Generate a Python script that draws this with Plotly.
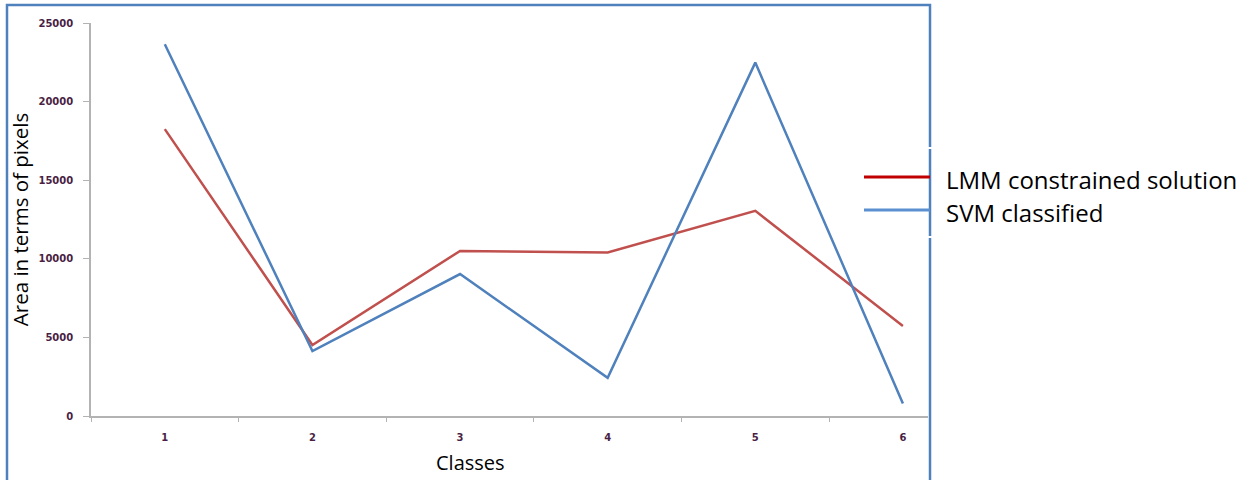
import plotly.graph_objects as go

# Pixel area per class for the two methods
classes = [1, 2, 3, 4, 5, 6]
lmm_area = [18250, 4520, 10500, 10400, 13050, 5720]
svm_area = [23650, 4130, 9030, 2430, 22480, 800]
series_names = ["LMM constrained solution", "SVM classified"]
y_ticks = [0, 5000, 10000, 15000, 20000, 25000]

W, H = 1252, 480
L, R, T, B = 91, 928, 23, 416  # plot area in pixels

LINE_RED = "#c0504d"
LINE_BLUE = "#4f81bd"
TICK_FONT = dict(family="DejaVu Sans", size=10, color="#4a1f45", weight="bold")
TITLE_FONT = dict(family="Open Sans", size=20, color="#000000")


def px_x(x):
    return (x - L) / (R - L)


def px_y(y):
    return (B - y) / (B - T)


fig = go.Figure()
fig.add_trace(go.Scatter(x=classes, y=lmm_area, mode="lines", name=series_names[0],
                         line=dict(color=LINE_RED, width=2.5), showlegend=False))
fig.add_trace(go.Scatter(x=classes, y=svm_area, mode="lines", name=series_names[1],
                         line=dict(color=LINE_BLUE, width=2.5), showlegend=False))

fig.update_layout(
    width=W, height=H,
    margin=dict(l=L, r=W - R, t=T, b=H - B),
    paper_bgcolor="white", plot_bgcolor="white",
    xaxis=dict(range=[0.5, 6.17], tickvals=classes, ticktext=[str(c) for c in classes],
               showgrid=False, zeroline=False, showline=True, linecolor="#b3b3b3", linewidth=1.5,
               ticks="", tickfont=TICK_FONT, ticklabelstandoff=11,
               minor=dict(ticks="outside", tick0=0.5, dtick=1, ticklen=4, tickcolor="#b3b3b3",
                          showgrid=False)),
    yaxis=dict(range=[0, 25000], tickvals=y_ticks, ticktext=[str(v) for v in y_ticks],
               showgrid=False, zeroline=False,
               showline=True, linecolor="#b3b3b3", linewidth=1.5,
               ticks="outside", ticklen=6, tickcolor="#b3b3b3", tickfont=TICK_FONT,
               ticklabelstandoff=8,
               title=dict(text="Area in terms of pixels",
                          font=dict(family="Open Sans", size=20.5, color="#000000"),
                          standoff=4)),
    showlegend=False,
)

# Chart frame
frame_color = "#4f81bd"
fig.add_shape(type="rect", xref="paper", yref="paper",
              x0=px_x(7), x1=px_x(930), y0=px_y(5), y1=px_y(492),
              line=dict(color=frame_color, width=2.5), fillcolor="rgba(0,0,0,0)")
# Small white gaps where the legend box overlaps the frame
for gy in (148, 237):
    fig.add_shape(type="line", xref="paper", yref="paper",
                  x0=px_x(926), x1=px_x(934), y0=px_y(gy), y1=px_y(gy),
                  line=dict(color="white", width=2))

# Legend
legend_rows = [(series_names[0], "#c00000", 177, 179), (series_names[1], "#5a8fd0", 210, 212)]
for name, col, ly, ty in legend_rows:
    fig.add_shape(type="line", xref="paper", yref="paper",
                  x0=px_x(864), x1=px_x(930), y0=px_y(ly), y1=px_y(ly),
                  line=dict(color=col, width=3))
    fig.add_annotation(x=px_x(944), y=px_y(ty), xref="paper", yref="paper",
                       text=name, showarrow=False, xanchor="left", yanchor="middle",
                       font=dict(family="Open Sans", size=24, color="#000000"))

# X-axis title
fig.add_annotation(x=px_x(470), y=px_y(462), xref="paper", yref="paper",
                   text="Classes", showarrow=False, xanchor="center", yanchor="middle",
                   font=TITLE_FONT)

fig.write_html("out.html")
